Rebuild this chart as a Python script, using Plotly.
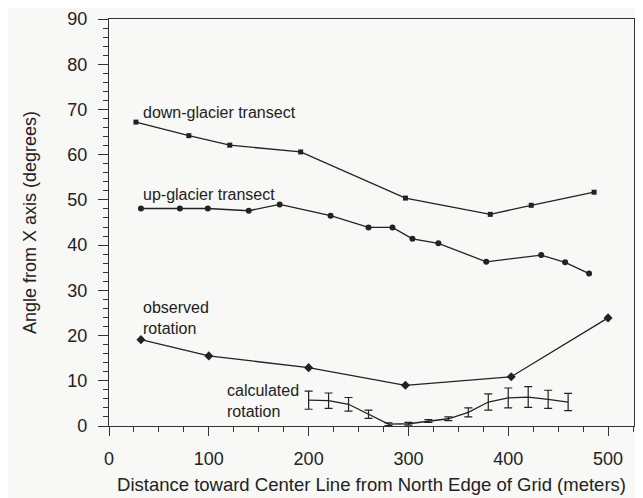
import plotly.graph_objects as go

# Data
down_x = [27, 80, 121, 192, 297, 382, 423, 486]
down_y = [67.2, 64.2, 62.1, 60.6, 50.4, 46.8, 48.8, 51.7]

up_x = [32, 71, 99, 140, 171, 222, 260, 284, 304, 330, 378, 433, 457, 481]
up_y = [48.1, 48.1, 48.1, 47.6, 49.0, 46.5, 43.9, 43.9, 41.4, 40.4, 36.3, 37.8, 36.2, 33.7]

obs_x = [32, 100, 200, 297, 403, 500]
obs_y = [19.1, 15.5, 12.9, 9.0, 10.9, 23.9]

calc_x = [200, 220, 240, 260, 280, 300, 320, 340, 360, 380, 400, 420, 440, 460]
calc_y = [5.7, 5.6, 4.8, 2.6, 0.4, 0.5, 1.1, 1.6, 3.0, 5.3, 6.2, 6.4, 5.9, 5.3]
calc_err = [2.0, 1.7, 1.5, 0.9, 0.3, 0.3, 0.3, 0.4, 1.0, 1.8, 2.2, 2.3, 2.0, 1.9]

labels = ["down-glacier transect", "up-glacier transect", "observed<br>rotation", "calculated<br>rotation"]
label_x = [32, 32, 32, 116]
label_y = [69.4, 51.2, 23.8, 5.6]

ink = "#222222"
bg = "#f8f8f6"
font_family = "Liberation Sans, Arial, sans-serif"

fig = go.Figure()
fig.add_trace(go.Scatter(x=down_x, y=down_y, mode="lines+markers",
                         line=dict(color=ink, width=1.3),
                         marker=dict(symbol="square", size=5, color=ink)))
fig.add_trace(go.Scatter(x=up_x, y=up_y, mode="lines+markers",
                         line=dict(color=ink, width=1.3),
                         marker=dict(symbol="circle", size=6, color=ink)))
fig.add_trace(go.Scatter(x=obs_x, y=obs_y, mode="lines+markers",
                         line=dict(color=ink, width=1.3),
                         marker=dict(symbol="diamond", size=7, color=ink)))
fig.add_trace(go.Scatter(x=calc_x, y=calc_y, mode="lines",
                         line=dict(color=ink, width=1.3),
                         error_y=dict(type="data", array=calc_err, visible=True,
                                      width=4, thickness=1.2, color=ink)))

for t, x, y in zip(labels, label_x, label_y):
    fig.add_annotation(x=x, y=y, xref="x", yref="y", text=t, showarrow=False,
                       xanchor="left", yanchor="middle", align="left",
                       font=dict(size=16, color=ink, family=font_family))

# page body adds an 8px offset, so the figure is 8px smaller and margins shifted
fig.update_layout(
    width=635, height=490,
    margin=dict(l=101, r=9, t=11, b=72, autoexpand=False),
    paper_bgcolor=bg, plot_bgcolor=bg,
    showlegend=False,
    font=dict(family=font_family, size=18, color=ink),
)
fig.update_xaxes(
    range=[0, 526], dtick=100, tick0=0,
    showline=True, linecolor="#333333", linewidth=1.3, mirror=True,
    ticks="outside", ticklen=9, tickcolor="#333333", tickwidth=1.3,
    minor=dict(dtick=25, ticks="outside", ticklen=5, tickcolor="#333333", tickwidth=1.2),
    showgrid=False, zeroline=False,
    ticklabelstandoff=7,
    title=dict(text="Distance toward Center Line from North Edge of Grid (meters)",
               standoff=10, font=dict(size=18.5)),
)
fig.update_yaxes(
    range=[0, 90], dtick=10, tick0=0,
    showline=True, linecolor="#333333", linewidth=1.3, mirror=True,
    ticks="outside", ticklen=10, tickcolor="#333333", tickwidth=1.3,
    minor=dict(dtick=2, ticks="outside", ticklen=5, tickcolor="#333333", tickwidth=1.2),
    showgrid=False, zeroline=False,
    ticklabelstandoff=7,
    title=dict(text="Angle from X axis (degrees)", standoff=25, font=dict(size=18)),
)

fig.write_html("out.html")
